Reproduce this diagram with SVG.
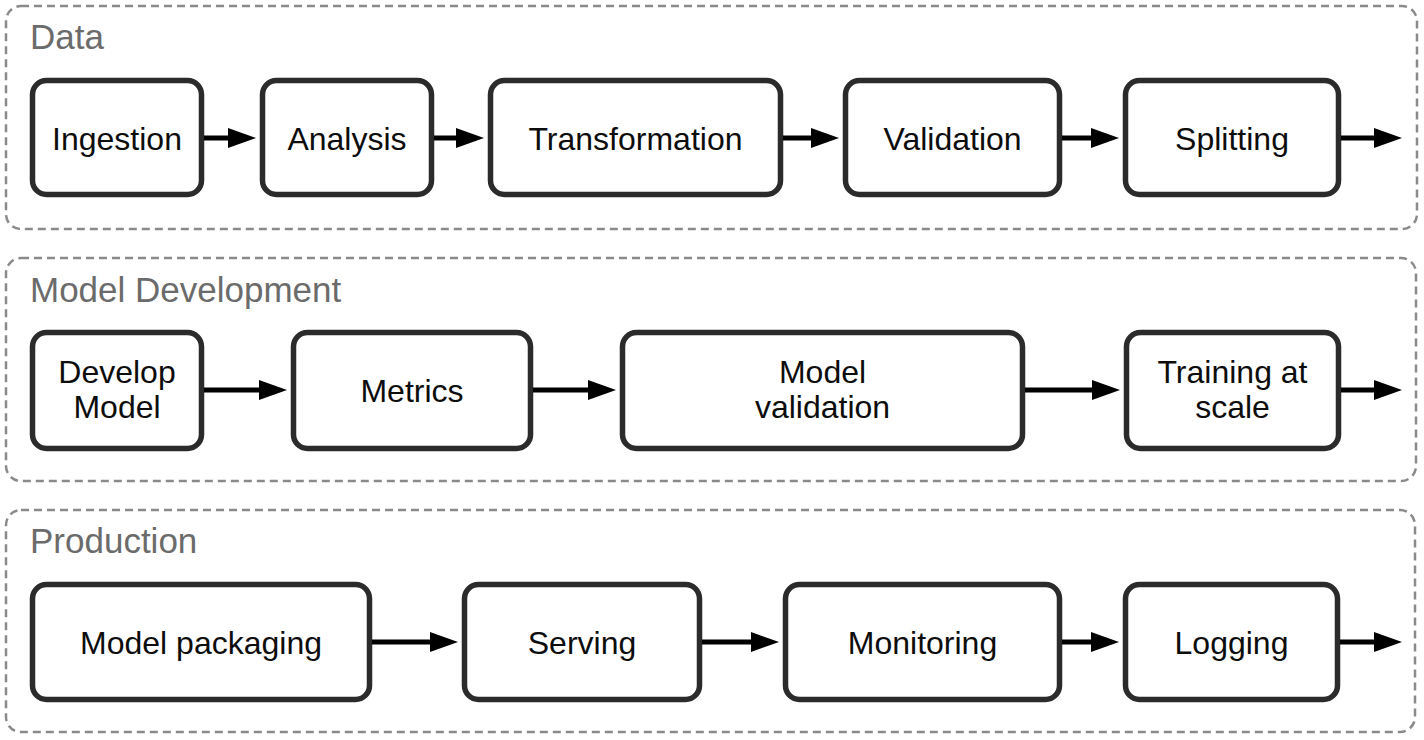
<svg xmlns="http://www.w3.org/2000/svg" width="1424" height="740" viewBox="0 0 1424 740">
<style>
.bg{fill:#ffffff}
.group{fill:none;stroke:#8a8a8a;stroke-width:2.5;stroke-dasharray:8 5}
.title{font-family:"Liberation Sans",Arial,Helvetica,sans-serif;font-size:35px;fill:#6b6b6b}
.box{fill:#ffffff;stroke:#2b2b2b;stroke-width:5.5}
.label{font-family:"Liberation Sans",Arial,Helvetica,sans-serif;font-size:32px;fill:#0d0d0d;text-anchor:middle}
.edge{fill:none;stroke:#000000;stroke-width:5;marker-end:url(#ah)}
</style>
<defs>
<marker id="ah" markerUnits="userSpaceOnUse" markerWidth="28" markerHeight="20" refX="0" refY="10" orient="auto" overflow="visible">
<path d="M0,0 L28,10 L0,20 Z" fill="#000000"/>
</marker>
</defs>
<rect class="bg" x="0" y="0" width="1424" height="740"/>

<g id="group-data">
<rect class="group" x="6" y="6" width="1411" height="223" rx="15"/>
<text class="title" x="30" y="49">Data</text>
</g>
<g id="group-model-development">
<rect class="group" x="6" y="258" width="1410" height="223" rx="15"/>
<text class="title" x="30" y="302">Model Development</text>
</g>
<g id="group-production">
<rect class="group" x="6" y="510" width="1409" height="222" rx="15"/>
<text class="title" x="30" y="553">Production</text>
</g>

<g id="node-ingestion"><rect class="box" x="32.5" y="80.5" width="169" height="114" rx="14"/><text class="label" x="117" y="149.5">Ingestion</text></g>
<g id="node-analysis"><rect class="box" x="262.5" y="80.5" width="169" height="114" rx="14"/><text class="label" x="347" y="149.5">Analysis</text></g>
<g id="node-transformation"><rect class="box" x="490.5" y="80.5" width="290" height="114" rx="14"/><text class="label" x="635.5" y="149.5">Transformation</text></g>
<g id="node-validation"><rect class="box" x="845.5" y="80.5" width="214" height="114" rx="14"/><text class="label" x="952.5" y="149.5">Validation</text></g>
<g id="node-splitting"><rect class="box" x="1125.5" y="80.5" width="213" height="114" rx="14"/><text class="label" x="1232" y="149.5">Splitting</text></g>

<g id="node-develop-model"><rect class="box" x="32.5" y="332.5" width="169" height="116" rx="14"/><text class="label" x="117" y="383">Develop</text><text class="label" x="117" y="418">Model</text></g>
<g id="node-metrics"><rect class="box" x="293.5" y="332.5" width="237" height="116" rx="14"/><text class="label" x="412" y="401.5">Metrics</text></g>
<g id="node-model-validation"><rect class="box" x="622.5" y="332.5" width="400" height="116" rx="14"/><text class="label" x="822.5" y="383">Model</text><text class="label" x="822.5" y="418">validation</text></g>
<g id="node-training-at-scale"><rect class="box" x="1126.5" y="332.5" width="212" height="116" rx="14"/><text class="label" x="1232.5" y="383">Training at</text><text class="label" x="1232.5" y="418">scale</text></g>

<g id="node-model-packaging"><rect class="box" x="32.5" y="584.5" width="337" height="115" rx="14"/><text class="label" x="201" y="653.5">Model packaging</text></g>
<g id="node-serving"><rect class="box" x="464.5" y="584.5" width="235" height="115" rx="14"/><text class="label" x="582" y="653.5">Serving</text></g>
<g id="node-monitoring"><rect class="box" x="785.5" y="584.5" width="274" height="115" rx="14"/><text class="label" x="922.5" y="653.5">Monitoring</text></g>
<g id="node-logging"><rect class="box" x="1125.5" y="584.5" width="212" height="115" rx="14"/><text class="label" x="1231.5" y="653.5">Logging</text></g>

<g id="connectors">
<path class="edge" d="M204,138 H228"/>
<path class="edge" d="M434,138 H456"/>
<path class="edge" d="M783,138 H811"/>
<path class="edge" d="M1062,138 H1091"/>
<path class="edge" d="M1341,138 H1374"/>
<path class="edge" d="M204,390 H259"/>
<path class="edge" d="M533,390 H588"/>
<path class="edge" d="M1025,390 H1092"/>
<path class="edge" d="M1341,390 H1374"/>
<path class="edge" d="M372,642 H430"/>
<path class="edge" d="M702,642 H751"/>
<path class="edge" d="M1062,642 H1091"/>
<path class="edge" d="M1340,642 H1374"/>
</g>
</svg>
